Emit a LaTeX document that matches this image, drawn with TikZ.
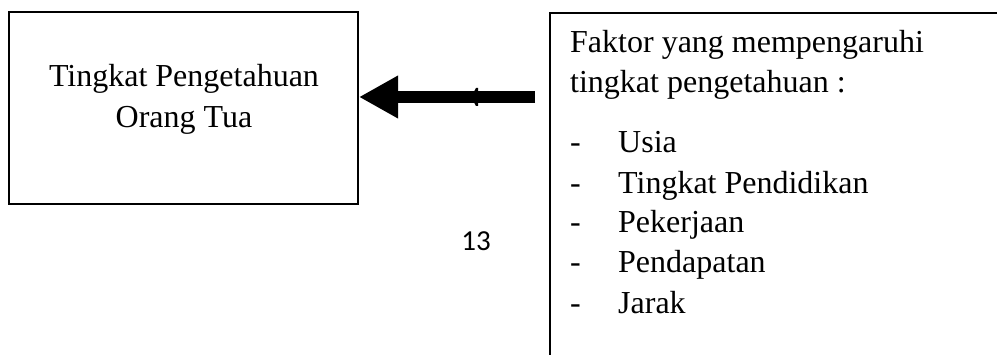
\documentclass[tikz,border=0pt]{standalone}
\usepackage{fontspec}
\setmainfont{Liberation Serif}
\newfontfamily\numfont{Carlito}
\usetikzlibrary{arrows.meta}
\begin{document}
\begin{tikzpicture}[x=1pt,y=-1pt,
  boxstyle/.style={draw=black, line width=2pt, inner sep=0pt, fill=none},
  txt/.style={font=\fontsize{32}{40.5}\selectfont, inner sep=0pt, anchor=base west},
  bigarrow/.style={line width=12pt, -{Triangle[length=39pt,width=40pt]}}]
\useasboundingbox (0,0) rectangle (997,355);
\clip (0,0) rectangle (997,355);
\fill[white] (0,0) rectangle (997,355);
% left box
\node[boxstyle, minimum width=349pt, minimum height=192pt] (lbox) at (183.5,108) {};
\node[font=\fontsize{32}{40.5}\selectfont, inner sep=0pt, anchor=base] (l1) at (184,87) {Tingkat Pengetahuan};
\node[font=\fontsize{32}{40.5}\selectfont, inner sep=0pt, anchor=base] (l2) at (184,128) {Orang Tua};
% right box (cropped at right and bottom)
\node[boxstyle, minimum width=500pt, minimum height=420pt, anchor=north west] (rbox) at (549,12) {};
\node[txt] (f1) at (570,53) {Faktor yang mempengaruhi};
\node[txt] (f2) at (570,93) {tingkat pengetahuan :};
\foreach \n/\t/\y in {i1/Usia/153, i2/Tingkat Pendidikan/194, i3/Pekerjaan/233, i4/Pendapatan/273, i5/Jarak/314}{
  \node[txt] (d\n) at (570,\y) {-};
  \node[txt] (\n) at (618,\y) {\t};
}
% arrow
\coordinate (atail) at (535,97);
\draw[bigarrow] (atail) -- (lbox.east |- atail);
\fill[black] (471,97) -- (476,88) -- (478,88) -- (478,106) -- (476,106) -- cycle;
% page number
\node[font=\numfont\fontsize{29}{32}\selectfont, inner sep=0pt, anchor=base] (pg) at (476,251) {13};
\end{tikzpicture}
\end{document}
